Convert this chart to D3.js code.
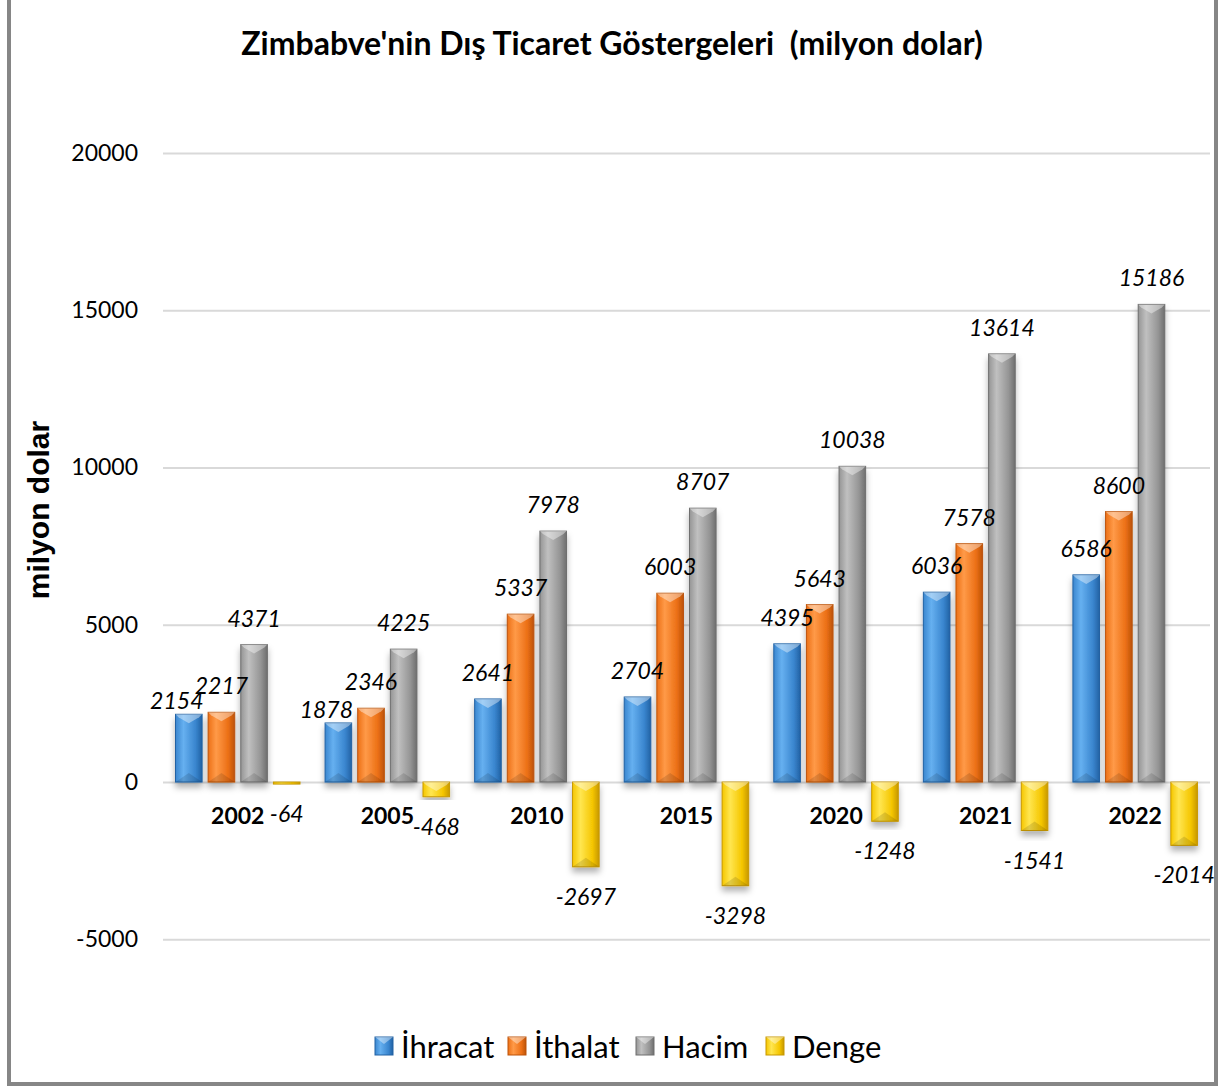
<!DOCTYPE html>
<html>
<head>
<meta charset="utf-8">
<script src="https://cdn.jsdelivr.net/npm/d3@7"></script>
<style>
  body { margin: 0; background: #fff; }
  svg { display: block; }
</style>
</head>
<body>
<svg id="chart"></svg>
<script>
(function(){
    "use strict";

    // data
    var years = ["2002", "2005", "2010", "2015", "2020", "2021", "2022"];
    var ihracat = [2154, 1878, 2641, 2704, 4395, 6036, 6586];
    var ithalat = [2217, 2346, 5337, 6003, 5643, 7578, 8600];
    var hacim = [4371, 4225, 7978, 8707, 10038, 13614, 15186];
    var denge = [-64, -468, -2697, -3298, -1248, -1541, -2014];
    var seriesNames = ["İhracat", "İthalat", "Hacim", "Denge"];
    var yTicks = [-5000, 0, 5000, 10000, 15000, 20000];

    var seriesValues = [ihracat, ithalat, hacim, denge];
    var colors = [
        {base: "#3a86cf", light: "#66b0f0", dark: "#2262a4"},
        {base: "#ec7016", light: "#ff9a48", dark: "#bd5308"},
        {base: "#959595", light: "#c0c0c0", dark: "#6e6e6e"},
        {base: "#f5c600", light: "#ffe650", dark: "#c79800"}
    ];

    var width = 1219,
        height = 1086;

    var svg = d3.select("#chart")
        .attr("width", width)
        .attr("height", height);

    var defs = svg.append("defs");

    colors.forEach(function(c, i) {
        var g = defs.append("linearGradient")
            .attr("id", "grad" + i)
            .attr("x1", "0").attr("x2", "1").attr("y1", "0").attr("y2", "0");
        g.append("stop").attr("offset", "0").attr("stop-color", c.base);
        g.append("stop").attr("offset", "0.3").attr("stop-color", c.light);
        g.append("stop").attr("offset", "0.75").attr("stop-color", c.base);
        g.append("stop").attr("offset", "1").attr("stop-color", c.dark);
    });

    var shadow = defs.append("filter").attr("id", "shadow")
        .attr("x", "-30%").attr("y", "-10%").attr("width", "160%").attr("height", "130%");
    shadow.append("feDropShadow")
        .attr("dx", 0).attr("dy", 5)
        .attr("stdDeviation", 3)
        .attr("flood-color", "#000")
        .attr("flood-opacity", 0.3);

    // frame
    svg.append("rect")
        .attr("x", 9).attr("y", -10)
        .attr("width", 1207).attr("height", 1094)
        .attr("fill", "none")
        .attr("stroke", "#868686")
        .attr("stroke-width", 4);

    var x0 = d3.scaleBand()
        .domain(years)
        .range([163, 1210]);

    var x1 = d3.scaleBand()
        .domain(d3.range(seriesNames.length))
        .range([12.5, 137])
        .paddingInner(0.185);

    var y = d3.scaleLinear()
        .domain([-5000, 20000])
        .range([939.3, 153]);

    // gridlines + y labels
    var yAxis = d3.axisLeft(y)
        .tickValues(yTicks)
        .tickSize(-(1210 - 163))
        .tickPadding(25)
        .tickFormat(function(d) { return String(d); });

    var ga = svg.append("g")
        .attr("transform", "translate(163,0)")
        .call(yAxis);
    ga.select(".domain").remove();
    ga.selectAll(".tick line")
        .attr("stroke", "#d9d9d9")
        .attr("stroke-width", 2);
    ga.selectAll(".tick text")
        .attr("fill", "#000")
        .style("font-family", "Lato, 'Open Sans', sans-serif")
        .style("font-size", "23px");

    // bars
    var bevel = 9;
    var bars = [];
    years.forEach(function(yr, i) {
        seriesValues.forEach(function(vals, s) {
            bars.push({year: yr, s: s, v: vals[i]});
        });
    });

    var bar = svg.append("g").selectAll("g")
        .data(bars)
        .enter().append("g")
        .attr("filter", "url(#shadow)");

    function bx(d) { return x0(d.year) + x1(d.s); }
    function btop(d) { return y(Math.max(0, d.v)); }
    function bh(d) { return Math.abs(y(d.v) - y(0)); }

    bar.append("rect")
        .attr("x", bx)
        .attr("y", btop)
        .attr("width", x1.bandwidth())
        .attr("height", bh)
        .attr("fill", function(d) { return "url(#grad" + d.s + ")"; })
        .attr("stroke", function(d) { return colors[d.s].dark; })
        .attr("stroke-width", 1);

    // bevel top
    bar.filter(function(d) { return bh(d) > bevel * 1.5; })
        .append("path")
        .attr("d", function(d) {
            var x = bx(d), t = btop(d), w = x1.bandwidth();
            return "M" + x + "," + t + "L" + (x + w) + "," + t +
                "L" + (x + w - 3) + "," + (t + 3) +
                "L" + (x + w / 2) + "," + (t + bevel) +
                "L" + (x + 3) + "," + (t + 3) + "Z";
        })
        .attr("fill", "#fff")
        .attr("fill-opacity", 0.4);

    // bevel bottom
    bar.filter(function(d) { return bh(d) > bevel * 3; })
        .append("path")
        .attr("d", function(d) {
            var x = bx(d), b = btop(d) + bh(d), w = x1.bandwidth();
            return "M" + x + "," + b + "L" + (x + w) + "," + b +
                "L" + (x + w / 2) + "," + (b - bevel) + "Z";
        })
        .attr("fill", "#000")
        .attr("fill-opacity", 0.12);

    // category labels
    svg.append("g").selectAll("text")
        .data(years)
        .enter().append("text")
        .attr("x", function(d) { return x0(d) + x0.bandwidth() / 2; })
        .attr("y", 815)
        .attr("text-anchor", "middle")
        .attr("dominant-baseline", "central")
        .style("font-family", "Lato, 'Open Sans', sans-serif")
        .style("font-weight", "bold")
        .style("font-size", "23px")
        .text(function(d) { return d; });

    // value labels
    var labels = svg.append("g").selectAll("text")
        .data(bars)
        .enter().append("text")
        .attr("x", function(d) { return bx(d) + x1.bandwidth() / 2; })
        .attr("y", function(d) { return d.v >= 0 ? y(d.v) - 27 : y(d.v) + 29; })
        .attr("text-anchor", "middle")
        .attr("dominant-baseline", "central")
        .style("font-family", "Lato, 'Open Sans', sans-serif")
        .style("font-style", "italic")
        .style("font-size", "23px")
        .text(function(d) { return d.v; });

    // nudge an export label left/down when it runs into the import label beside it
    var nodes = labels.nodes();
    nodes.forEach(function(n, k) {
        var d = bars[k];
        if (d.s !== 0) return;
        var a = n.getBBox(), b = nodes[k + 1].getBBox();
        var hit = a.x + a.width > b.x && b.x + b.width > a.x &&
            a.y + a.height > b.y && b.y + b.height > a.y;
        if (hit) {
            d3.select(n)
                .attr("x", bx(d) + x1.bandwidth() / 2 - 12)
                .attr("y", y(d.v) - 14);
        }
    });

    // title
    svg.append("text")
        .attr("x", 612)
        .attr("y", 42)
        .attr("text-anchor", "middle")
        .attr("dominant-baseline", "central")
        .style("font-family", "Lato, 'Open Sans', sans-serif")
        .style("font-weight", "bold")
        .style("font-size", "32px")
        .style("white-space", "pre")
        .text("Zimbabve'nin Dış Ticaret Göstergeleri  (milyon dolar)");

    // y axis title
    svg.append("text")
        .attr("transform", "translate(38,510) rotate(-90)")
        .attr("text-anchor", "middle")
        .attr("dominant-baseline", "central")
        .style("font-family", "'Liberation Sans', Arial, sans-serif")
        .style("font-weight", "bold")
        .style("font-size", "30px")
        .text("milyon dolar");

    // legend
    var legendX = [375, 508, 636, 766];
    var lg = svg.append("g").selectAll("g")
        .data(seriesNames)
        .enter().append("g")
        .attr("transform", function(d, i) { return "translate(" + legendX[i] + ",1037)"; });

    lg.append("rect")
        .attr("width", 18).attr("height", 18)
        .attr("fill", function(d, i) { return "url(#grad" + i + ")"; })
        .attr("stroke", function(d, i) { return colors[i].dark; });
    lg.append("path")
        .attr("d", "M0,0L18,0L9,7Z")
        .attr("fill", "#fff")
        .attr("fill-opacity", 0.4);
    lg.append("text")
        .attr("x", 26)
        .attr("y", 9)
        .attr("dominant-baseline", "central")
        .style("font-family", "Lato, 'Open Sans', sans-serif")
        .style("font-size", "31px")
        .text(function(d) { return d; });
})();
</script>
</body>
</html>
